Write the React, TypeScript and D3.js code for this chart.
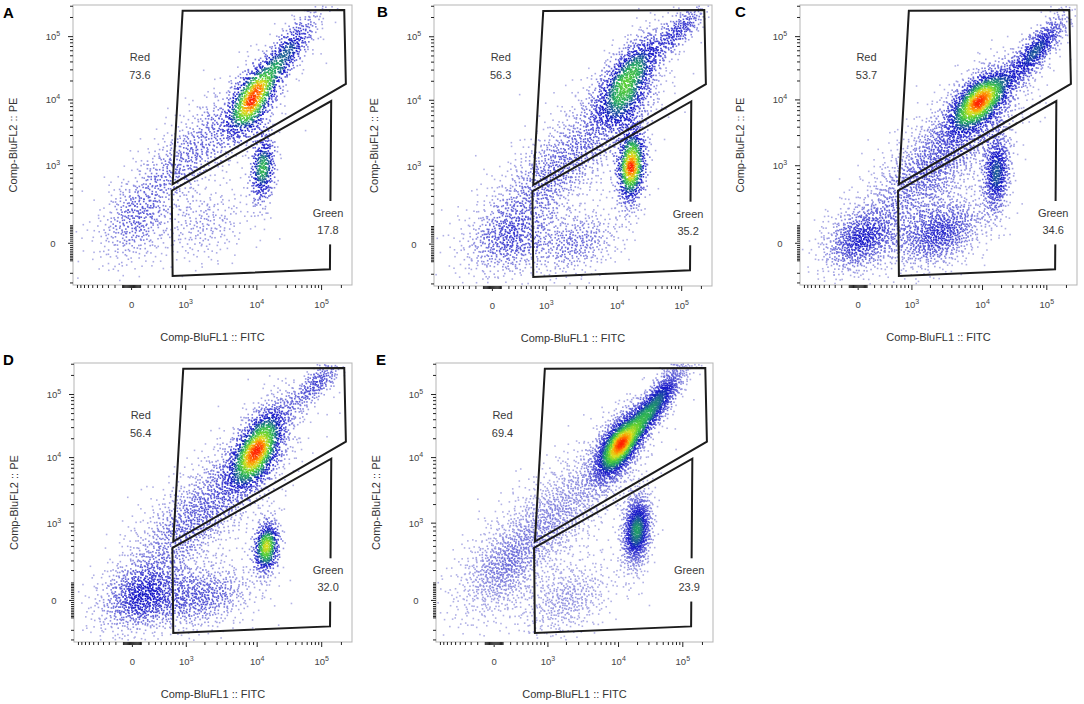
import React, { useEffect, useRef } from 'react';
import * as d3 from 'd3';

const W = 1084;
const H = 704;

const panelNames = ['A', 'B', 'C', 'D', 'E'];
const redPercent = ['73.6', '56.3', '53.7', '56.4', '69.4'];
const greenPercent = ['17.8', '35.2', '34.6', '32.0', '23.9'];

// decades labelled on both axes
const majorValues = [0, 1e3, 1e4, 1e5];
const majorExponents = ['', '3', '4', '5'];

// gate vertices as [FITC, PE]
const redGate: [number, number][] = [[909, 254000], [221000, 262000], [234000, 18000], [650, 583]];
const greenGate: [number, number][] = [[630, 475], [140000, 9640], [134000, -165], [650, -226]];

// populations: [FITC centre, PE centre, sdX, sdY, rho, events]
// (spreads are fractions of the axis length)
const clustersA = [
  [8580, 9460, 0.05, 0.075, 0.55, 700],
  [27600, 51200, 0.07, 0.09, 0.85, 500],
  [12500, 940, 0.024, 0.075, 0.2, 380],
  [1180, 1500, 0.16, 0.16, 0.85, 900],
  [35, 104, 0.065, 0.085, 0.2, 280],
  [2040, 104, 0.09, 0.075, 0.3, 250],
];
const clustersB = [
  [11800, 11400, 0.065, 0.075, 0.4, 700],
  [20250, 38900, 0.06, 0.07, 0.6, 500],
  [94300, 128000, 0.055, 0.055, 0.8, 250],
  [16850, 993, 0.028, 0.08, 0.2, 750],
  [1680, 993, 0.16, 0.16, 0.8, 1300],
  [214, 20, 0.085, 0.075, 0.2, 500],
  [2945, 5, 0.09, 0.065, 0.3, 400],
];
const clustersC = [
  [9300, 10000, 0.065, 0.065, 0.6, 1200],
  [69600, 61500, 0.065, 0.075, 0.85, 600],
  [16700, 808, 0.027, 0.085, 0.2, 560],
  [2740, 52, 0.09, 0.07, 0.4, 900],
  [20, 15, 0.075, 0.065, 0.3, 700],
  [2480, 1240, 0.16, 0.16, 0.8, 1800],
];
const clustersD = [
  [9370, 10200, 0.055, 0.07, 0.5, 900],
  [14100, 30800, 0.06, 0.07, 0.6, 450],
  [83800, 148000, 0.055, 0.055, 0.8, 250],
  [14100, 493, 0.025, 0.055, 0.2, 480],
  [1680, 16, 0.11, 0.065, 0.3, 700],
  [83, 16, 0.08, 0.07, 0.3, 700],
  [1680, 1450, 0.16, 0.16, 0.8, 1500],
];
const clustersE = [
  [9920, 14900, 0.05, 0.07, 0.6, 1500],
  [35300, 64000, 0.065, 0.085, 0.88, 1100],
  [19500, 822, 0.028, 0.075, 0.2, 900],
  [966, 993, 0.16, 0.16, 0.8, 1600],
  [2020, 3, 0.09, 0.075, 0.4, 500],
  [63, 177, 0.075, 0.085, 0.3, 400],
];
const panelClusters = [clustersA, clustersB, clustersC, clustersD, clustersE];

// layout
const frames = [
  { x: 73, y: 5, w: 279, h: 280 },
  { x: 434, y: 5, w: 278, h: 281 },
  { x: 800, y: 5, w: 277, h: 280 },
  { x: 74, y: 363, w: 278, h: 279 },
  { x: 436, y: 363, w: 277, h: 279 },
];
const letterPos = [[3, 18], [377, 17], [735, 17], [3, 365], [376, 365]];
const xStops = [0.21, 0.404, 0.659, 0.891];
const yStops = [0.149, 0.426, 0.661, 0.887];

// logicle-like transform: linear near zero, log for large values
const logicle = (c: number) => (v: number) => Math.sign(v) * Math.log10(1 + Math.abs(v) / c);
const tX = logicle(500);
const tY = logicle(200);

const halton = (i: number, b: number) => {
  let f = 1, r = 0;
  while (i > 0) {
    f /= b;
    r += f * (i % b);
    i = Math.floor(i / b);
  }
  return r;
};

const App: React.FC = () => {
  const svgRef = useRef<SVGSVGElement>(null);

  useEffect(() => {
    if (!svgRef.current) return;
    const svg = d3.select(svgRef.current);
    svg.selectAll('*').remove();
    svg.attr('font-family', '"Liberation Sans", Arial, Helvetica, sans-serif');

    const color = d3.scaleLinear<string>()
      .domain([0, 0.1, 0.3, 0.52, 0.66, 0.79, 0.9, 1])
      .range(['#b3b3e6', '#6a6ad9', '#1414c8', '#22a860', '#5cd034', '#dede1e', '#ff9000', '#ff1c00'])
      .clamp(true);

    const tickVals: number[] = [];
    for (let m = 1; m <= 5; m++) {
      for (let k = 1; k <= 9; k++) tickVals.push(k * 10 ** m, -k * 10 ** m);
    }

    let seq = 1;
    panelNames.forEach((name, pi) => {
      const f = frames[pi];
      const x = d3.scaleLinear().domain(majorValues.map(tX)).range(xStops.map(s => f.x + s * f.w));
      const y = d3.scaleLinear().domain(majorValues.map(tY)).range(yStops.map(s => f.y + f.h - s * f.h));
      const X = (v: number) => x(tX(v));
      const Y = (v: number) => y(tY(v));
      const g = svg.append('g');

      // events
      const pts: { px: number; py: number; d: number }[] = [];
      panelClusters[pi].forEach(([cx, cy, sx, sy, rho, n]) => {
        const px0 = X(cx), py0 = Y(cy);
        for (let k = 0; k < n; k++) {
          const i = seq++;
          const u1 = halton(i, 2), u2 = halton(i, 3);
          const r = Math.sqrt(-2 * Math.log(u1));
          const z1 = r * Math.cos(2 * Math.PI * u2);
          const z2 = r * Math.sin(2 * Math.PI * u2);
          const px = px0 + z1 * sx * f.w;
          const py = py0 - (rho * z1 + Math.sqrt(1 - rho * rho) * z2) * sy * f.h;
          if (px > f.x + 1 && px < f.x + f.w - 1 && py > f.y + 1 && py < f.y + f.h - 1) {
            pts.push({ px, py, d: 0 });
          }
        }
      });

      // pseudocolour by local density
      const cs = 2;
      const gw = Math.ceil(f.w / cs) + 1, gh = Math.ceil(f.h / cs) + 1;
      const grid = new Float64Array(gw * gh);
      const cell = (p: { px: number; py: number }) =>
        Math.floor((p.py - f.y) / cs) * gw + Math.floor((p.px - f.x) / cs);
      pts.forEach(p => { grid[cell(p)] += 1; });
      d3.blur2({ data: grid, width: gw, height: gh }, 2);
      const max = d3.max(grid) || 1;
      pts.forEach(p => { p.d = Math.pow(grid[cell(p)] / max, 1.55); });
      pts.sort((a, b) => a.d - b.d);

      g.append('g')
        .selectAll('rect')
        .data(pts)
        .join('rect')
        .attr('x', d => d.px - 0.8)
        .attr('y', d => d.py - 0.8)
        .attr('width', 1.6)
        .attr('height', 1.6)
        .attr('fill', d => color(d.d));

      // frame
      g.append('rect')
        .attr('x', f.x).attr('y', f.y).attr('width', f.w).attr('height', f.h)
        .attr('fill', 'none').attr('stroke', '#b5b5b5').attr('stroke-width', 1);

      // gates
      const line = d3.line<[number, number]>().x(d => X(d[0])).y(d => Y(d[1]));
      [redGate, greenGate].forEach(gate => {
        g.append('path')
          .attr('d', line(gate) + 'Z')
          .attr('fill', 'none')
          .attr('stroke', '#1c1c1c')
          .attr('stroke-width', 2);
      });

      // gate labels
      const lab = (tx: number, ty: number, s: string) =>
        g.append('text')
          .attr('x', f.x + tx * f.w).attr('y', f.y + ty * f.h + 4)
          .attr('text-anchor', 'middle').attr('font-size', 11).attr('fill', '#3a3a3a')
          .text(s);
      lab(0.24, 0.186, 'Red');
      lab(0.24, 0.25, redPercent[pi]);
      g.append('rect')
        .attr('x', f.x + 0.914 * f.w - 18).attr('y', f.y + 0.7 * f.h)
        .attr('width', 36).attr('height', 0.155 * f.h).attr('fill', '#fff');
      lab(0.914, 0.743, 'Green');
      lab(0.914, 0.804, greenPercent[pi]);

      // ticks
      const allTicks = majorValues.concat(tickVals.filter(v => !majorValues.includes(v)));
      allTicks.forEach(v => {
        const major = majorValues.includes(v);
        const len = major ? 5 : 3;
        const px = X(v);
        if (px >= f.x && px <= f.x + f.w) {
          g.append('line')
            .attr('x1', px).attr('x2', px)
            .attr('y1', f.y + f.h).attr('y2', f.y + f.h + len)
            .attr('stroke', '#222').attr('stroke-width', 1);
        }
        const py = Y(v);
        if (py >= f.y && py <= f.y + f.h) {
          g.append('line')
            .attr('x1', f.x - len).attr('x2', f.x)
            .attr('y1', py).attr('y2', py)
            .attr('stroke', '#222').attr('stroke-width', 1);
        }
      });

      // tick labels
      majorValues.forEach((v, i) => {
        const addLabel = (tx: number, ty: number) => {
          const t = g.append('text')
            .attr('x', tx).attr('y', ty)
            .attr('text-anchor', 'middle').attr('font-size', 9.5).attr('fill', '#444');
          if (majorExponents[i] === '') {
            t.text('0');
          } else {
            t.append('tspan').text('10');
            t.append('tspan').attr('dy', -4).attr('font-size', 7).text(majorExponents[i]);
          }
        };
        addLabel(X(v), f.y + f.h + 23);
        addLabel(f.x - 20, Y(v) + 3.5);
      });

      // axis titles
      g.append('text')
        .attr('x', f.x + f.w / 2).attr('y', f.y + f.h + 56)
        .attr('text-anchor', 'middle').attr('font-size', 11).attr('fill', '#333')
        .text('Comp-BluFL1 :: FITC');
      g.append('text')
        .attr('transform', `translate(${f.x - 56},${f.y + f.h / 2}) rotate(-90)`)
        .attr('text-anchor', 'middle').attr('font-size', 11).attr('fill', '#333')
        .text('Comp-BluFL2 :: PE');

      // panel letter
      g.append('text')
        .attr('x', letterPos[pi][0]).attr('y', letterPos[pi][1])
        .attr('font-size', 15).attr('font-weight', 'bold').attr('fill', '#000')
        .text(name);
    });
  }, []);

  return (
    <div style={{ position: 'fixed', left: 0, top: 0, background: '#fff' }}>
      <svg ref={svgRef} width={W} height={H}></svg>
    </div>
  );
};

export default App;
